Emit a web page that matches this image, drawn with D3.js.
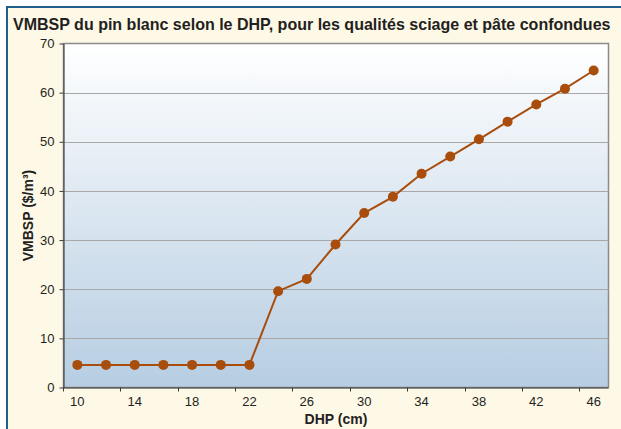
<!DOCTYPE html>
<html>
<head>
<meta charset="utf-8">
<script src="https://cdn.jsdelivr.net/npm/d3@7"></script>
<style>
  html, body { margin: 0; padding: 0; background: #fff; }
  svg text { font-family: "Liberation Sans Narrow", "Arial Narrow", "Liberation Sans", sans-serif; fill: #231f20; }
</style>
</head>
<body>
<div id="chart"></div>
<script>
// --- données ---
const dhp = [10, 12, 14, 16, 18, 20, 22, 24, 26, 28, 30, 32, 34, 36, 38, 40, 42, 44, 46];
const vmbsp = [4.6, 4.6, 4.6, 4.6, 4.6, 4.6, 4.6, 19.6, 22.1, 29.1, 35.5, 38.8, 43.5, 47.0, 50.5, 54.1, 57.6, 60.8, 64.5];
const yTicks = [0, 10, 20, 30, 40, 50, 60, 70];
const xLabels = [10, 14, 18, 22, 26, 30, 34, 38, 42, 46];

const W = 621, H = 429;
const plot = { left: 63.5, right: 608.5, top: 43.5, bottom: 387.5 };

const svg = d3.select("#chart").append("svg")
    .attr("width", W)
    .attr("height", H);

// cadre
svg.append("rect")
    .attr("x", 7).attr("y", 7)
    .attr("width", W).attr("height", H)
    .attr("fill", "#fef8e7")
    .attr("stroke", "#1e5f8e")
    .attr("stroke-width", 2);

const title = svg.append("text")
    .attr("x", 13).attr("y", 30)
    .attr("font-size", 17).attr("font-weight", "bold")
    .text("VMBSP du pin blanc selon le DHP, pour les qualités sciage et pâte confondues");
// réduire la taille pour tenir dans la largeur
const tw = title.node().getComputedTextLength();
if (tw > 598) title.attr("font-size", 17 * 598 / tw);

const x = d3.scaleBand().domain(dhp).range([plot.left - 0.5, plot.right - 0.5]).padding(0);
const y = d3.scaleLinear().domain([0, 70]).range([plot.bottom, plot.top]);

// fond dégradé
const grad = svg.append("defs").append("linearGradient")
    .attr("id", "bg").attr("x1", 0).attr("y1", 0).attr("x2", 0).attr("y2", 1);
grad.append("stop").attr("offset", "0%").attr("stop-color", "#ffffff");
grad.append("stop").attr("offset", "100%").attr("stop-color", "#b6cde2");

svg.append("rect")
    .attr("x", plot.left).attr("y", plot.top)
    .attr("width", plot.right - plot.left).attr("height", plot.bottom - plot.top)
    .attr("fill", "url(#bg)")
    .attr("stroke", "#8a8a8a")
    .attr("stroke-width", 1.5);

// lignes de grille
svg.selectAll(".grid")
    .data(yTicks.filter(d => d > 0 && d < 70))
    .enter().append("line")
    .attr("x1", plot.left).attr("x2", plot.right)
    .attr("y1", d => Math.round(y(d)) + 0.5).attr("y2", d => Math.round(y(d)) + 0.5)
    .attr("stroke", "#a8a8a8")
    .attr("stroke-width", 1.2);

// axe Y
const yAxis = svg.append("g")
    .attr("transform", `translate(${plot.left},0)`)
    .call(d3.axisLeft(y).tickValues(yTicks).tickSize(4).tickSizeOuter(0).tickPadding(5));
yAxis.attr("font-family", null);
yAxis.selectAll("text").attr("font-size", 13);
yAxis.selectAll("path, line").attr("stroke", "#3a3a3a");

// axe X
const xAxis = svg.append("g")
    .attr("transform", `translate(0,${plot.bottom})`)
    .call(d3.axisBottom(x).tickValues(xLabels).tickSize(0).tickSizeOuter(0).tickPadding(9));
xAxis.attr("font-family", null);
xAxis.selectAll("text").attr("font-size", 13);
xAxis.select(".domain").attr("stroke", "#3a3a3a");

svg.selectAll(".xtick")
    .data(xLabels)
    .enter().append("line")
    .attr("x1", d => Math.round(x(d)) + 0.5).attr("x2", d => Math.round(x(d)) + 0.5)
    .attr("y1", plot.bottom).attr("y2", plot.bottom + 4)
    .attr("stroke", "#3a3a3a");

// série
const line = d3.line()
    .x((d, i) => x(dhp[i]) + x.bandwidth() / 2)
    .y(d => y(d));

svg.append("path")
    .datum(vmbsp)
    .attr("d", line)
    .attr("fill", "none")
    .attr("stroke", "#a84d0c")
    .attr("stroke-width", 2);

svg.selectAll(".pt")
    .data(vmbsp)
    .enter().append("circle")
    .attr("cx", (d, i) => x(dhp[i]) + x.bandwidth() / 2)
    .attr("cy", d => y(d))
    .attr("r", 5)
    .attr("fill", "#a84d0c");

// titres des axes
svg.append("text")
    .attr("x", (plot.left + plot.right) / 2).attr("y", 424)
    .attr("text-anchor", "middle")
    .attr("font-size", 14).attr("font-weight", "bold")
    .text("DHP (cm)");

svg.append("text")
    .attr("transform", `translate(33,${(plot.top + plot.bottom) / 2}) rotate(-90)`)
    .attr("text-anchor", "middle")
    .attr("font-size", 14).attr("font-weight", "bold")
    .text("VMBSP ($/m³)");
</script>
</body>
</html>
